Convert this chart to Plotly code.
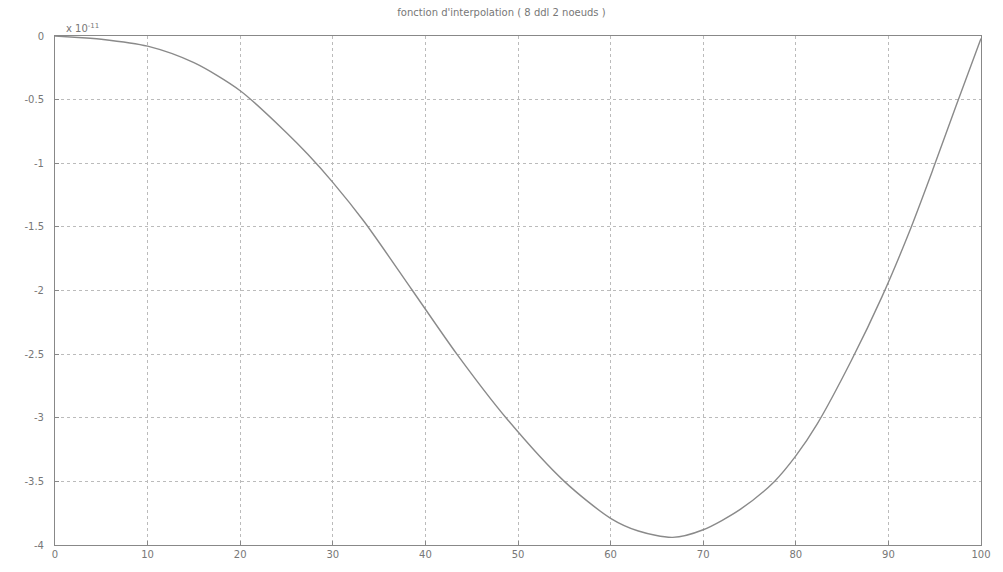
import plotly.graph_objects as go

# Curve values (y in units of 1e-11)
x_vals = [0, 3.4, 5, 10, 15, 20, 25, 27.3, 30, 33.4, 38.6, 43.4, 48.7, 55,
          60, 63, 66.7, 70, 74, 77.7, 80, 82.3, 86, 89.3, 92.2, 94.8, 97.3, 100]
y_vals = [0, -0.016, -0.025, -0.08, -0.21, -0.43, -0.76, -0.93, -1.15, -1.46,
          -2.0, -2.5, -3.0, -3.5, -3.79, -3.89, -3.94, -3.88, -3.72, -3.50,
          -3.30, -3.05, -2.55, -2.05, -1.55, -1.05, -0.55, -0.02]

x_ticks = [0, 10, 20, 30, 40, 50, 60, 70, 80, 90, 100]
y_ticks = [0, -0.5, -1, -1.5, -2, -2.5, -3, -3.5, -4]
y_tick_text = ["0", "-0.5", "-1", "-1.5", "-2", "-2.5", "-3", "-3.5", "-4"]

title_text = "fonction d'interpolation ( 8 ddl 2 noeuds )"
exponent_text = "x 10<sup>-11</sup>"

fig = go.Figure()
fig.add_trace(go.Scatter(
    x=x_vals, y=y_vals, mode="lines",
    line=dict(color="#8a8a8a", width=1.4, shape="spline", smoothing=0.8),
    showlegend=False,
))

axis_font = dict(family="DejaVu Sans", size=10, color="#777777")

fig.update_layout(
    width=1003, height=572,
    margin=dict(l=55, r=15, t=36, b=27),
    paper_bgcolor="white", plot_bgcolor="white",
    title=dict(text=title_text, x=0.5, xanchor="center", y=0.985, yanchor="top",
               font=dict(family="DejaVu Sans", size=10, color="#777777")),
    xaxis=dict(range=[0, 100], tickvals=x_ticks, ticktext=[str(v) for v in x_ticks],
               showgrid=True, gridcolor="#bbbbbb", griddash="dot", gridwidth=1,
               zeroline=False, showline=True, linecolor="#888888", mirror=True,
               ticks="inside", ticklen=4, tickcolor="#888888", tickfont=axis_font),
    yaxis=dict(range=[-4, 0], tickvals=y_ticks, ticktext=y_tick_text,
               showgrid=True, gridcolor="#bbbbbb", griddash="dot", gridwidth=1,
               zeroline=False, showline=True, linecolor="#888888", mirror=True,
               ticks="inside", ticklen=4, tickcolor="#888888", tickfont=axis_font,
               ticklabelstandoff=8),
)

fig.add_annotation(text=exponent_text, xref="paper", yref="paper", x=0.01, y=1.0,
                   xanchor="left", yanchor="bottom", showarrow=False,
                   font=dict(family="DejaVu Sans", size=10, color="#777777"))

fig.write_html("out.html")
